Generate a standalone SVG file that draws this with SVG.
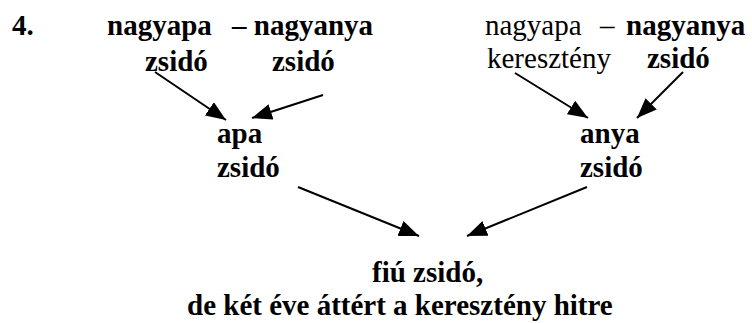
<svg xmlns="http://www.w3.org/2000/svg" width="752" height="323" viewBox="0 0 752 323">
<style>
.b{font-weight:bold}
.c line{stroke:#000;stroke-width:2}
</style>
<defs>
<marker id="ah" markerUnits="userSpaceOnUse" markerWidth="22" markerHeight="16" refX="20" refY="8" orient="auto">
<path d="M0,0 L20,8 L0,16 Z" fill="#000"/>
</marker>
</defs>
<rect width="752" height="323" fill="#fff"/>
<g font-family="Liberation Serif, Times New Roman, serif" font-size="29" fill="#000">
<g id="n0"><text class="b" x="12" y="35">4.</text></g>
<g id="gp1"><text class="b" x="107" y="35">nagyapa</text><text class="b" x="145" y="71">zsidó</text></g>
<g id="gm1"><text class="b" x="232" y="35">– nagyanya</text><text class="b" x="272" y="71">zsidó</text></g>
<g id="gp2"><text x="485" y="35">nagyapa</text><text x="487" y="68">keresztény</text></g>
<g id="gm2"><text x="600" y="35">–</text><text class="b" x="626" y="35">nagyanya</text><text class="b" x="647" y="68">zsidó</text></g>
<g id="apa"><text class="b" x="217" y="143">apa</text><text class="b" x="217" y="177">zsidó</text></g>
<g id="anya"><text class="b" x="580" y="143">anya</text><text class="b" x="580" y="177">zsidó</text></g>
<g id="fiu"><text class="b" x="372" y="282">fiú zsidó,</text><text class="b" x="187" y="315">de két éve áttért a keresztény hitre</text></g>
</g>
<g class="c" id="connectors">
<line x1="155" y1="72" x2="226" y2="120" marker-end="url(#ah)"/>
<line x1="323" y1="95" x2="252" y2="118" marker-end="url(#ah)"/>
<line x1="515" y1="73" x2="588" y2="118" marker-end="url(#ah)"/>
<line x1="683" y1="72" x2="637" y2="118" marker-end="url(#ah)"/>
<line x1="298" y1="187" x2="419" y2="236" marker-end="url(#ah)"/>
<line x1="587" y1="187" x2="467" y2="236" marker-end="url(#ah)"/>
</g>
</svg>
